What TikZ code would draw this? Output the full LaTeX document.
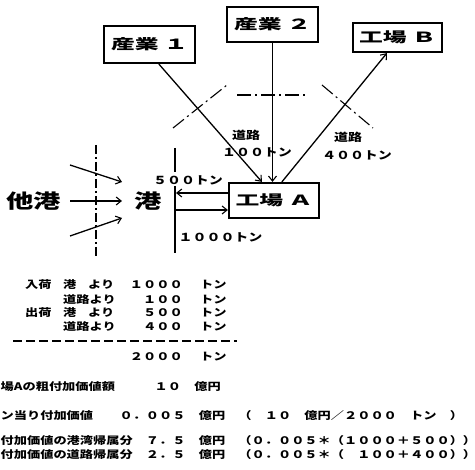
\documentclass[tikz,border=0pt]{standalone}
\usepackage{fontspec}
\newfontfamily\jpa[FakeStretch=1.27]{Noto Sans CJK JP}
\newfontfamily\jpb[FakeStretch=1.7]{Noto Sans CJK JP}
\newfontfamily\jpc[FakeStretch=1.4]{Noto Sans CJK JP}
\usetikzlibrary{arrows.meta,calc}
\begin{document}
\begin{tikzpicture}[x=1pt,y=-1pt,
  box/.style={draw,line width=2.2pt,inner sep=0pt,font=\jpb\bfseries\fontsize{14}{16}\selectfont},
  lbl/.style={inner sep=0pt,font=\jpa\bfseries\fontsize{11}{13}\selectfont},
  tbl/.style={inner sep=0pt,font=\jpa\bfseries\fontsize{10.4}{12}\selectfont},
  big/.style={inner sep=0pt,font=\jpc\bfseries\fontsize{19.5}{21}\selectfont},
  con/.style={line width=1.3pt},
  arr/.style={con,-{Straight Barb[length=5pt,width=8pt,line width=1.1pt]}},
  cut/.style={line width=1.1pt,dash pattern=on 14pt off 4pt on 2pt off 4pt},
  vcut/.style={line width=1.1pt,dash pattern=on 9pt off 3pt on 2pt off 3pt}]
\useasboundingbox (0,0) rectangle (475,470);
% boxes
\node[box,minimum width=91pt,minimum height=37pt] (s1) at (149.5,44.5) {産業 １};
\node[box,minimum width=91pt,minimum height=35pt] (s2) at (272.5,24.5) {産業 ２};
\node[box,minimum width=89pt,minimum height=29pt] (fb) at (397.5,37.5) {工場 Ｂ};
\node[box,minimum width=90pt,minimum height=35pt] (fa) at (274,200.5) {工場 Ａ};
% road arrows
\draw[arr] ($(s1.south west)+(56,0)$) -- ($(fa.north west)+(34,0)$);
\draw[arr] (s2.south) -- (s2.south |- fa.north);
\draw[arr] ($(fa.north west)+(54,0)$) -- ($(fb.south west)+(35,0)$);
% cut lines
\coordinate (c1a) at (173,128); \coordinate (c1b) at (227,85);
\coordinate (c2a) at (237,95);  \coordinate (c2b) at (308,95);
\coordinate (c3a) at (322,85);  \coordinate (c3b) at (373,128);
\draw[cut] (c1a) -- (c1b);
\draw[cut] (c2a) -- (c2b);
\draw[cut] (c3a) -- (c3b);
\coordinate (v1a) at (96,145); \coordinate (v1b) at (96,257);
\draw[vcut] (v1a) -- (v1b);
% port line
\coordinate (p1) at (175,148); \coordinate (p2) at (175,172);
\coordinate (p3) at (175,186); \coordinate (p4) at (175,253);
\draw[con] (p1) -- (p2);
\draw[con] (p3) -- (p4);
\coordinate (q1) at (176,193); \coordinate (q2) at (176,210);
\draw[arr] ($(fa.west)+(0,-7.5)$) -- (q1);
\draw[arr] (q2) -- ($(fa.west)+(0,9.5)$);
% other port
\node[big] (ot) at (34,201) {他港};
\node[big] (pt) at (148.5,201) {港};
\coordinate (a1s) at (70,165); \coordinate (a1e) at (122,182);
\coordinate (a2s) at (70,201); \coordinate (a2e) at (122,201);
\coordinate (a3s) at (70,236); \coordinate (a3e) at (122,218);
\draw[arr] (a1s) -- (a1e);
\draw[arr] (a2s) -- (a2e);
\draw[arr] (a3s) -- (a3e);
% labels
\node[lbl] (r1) at (246,135) {道路};
\node[lbl] (r1t) at (257,152) {１００トン};
\node[lbl] (r2) at (348,137) {道路};
\node[lbl] (r2t) at (357,155) {４００トン};
\node[lbl] (t500) at (188,180) {５００トン};
\node[lbl] (t1000) at (220.5,237) {１０００トン};
% table
\node[tbl,anchor=west] (k1) at (25,285) {入荷};
\node[tbl,anchor=west] (k1a) at (63,285) {港};
\node[tbl,anchor=west] (k1b) at (88,285) {より};
\node[tbl,anchor=east] (n1) at (183,285) {１０００};
\node[tbl,anchor=west] (u1) at (200,285) {トン};
\node[tbl,anchor=west] (k2a) at (63,300) {道路より};
\node[tbl,anchor=east] (n2) at (183,300) {１００};
\node[tbl,anchor=west] (u2) at (200,300) {トン};
\node[tbl,anchor=west] (k3) at (25,313) {出荷};
\node[tbl,anchor=west] (k3a) at (63,313) {港};
\node[tbl,anchor=west] (k3b) at (88,313) {より};
\node[tbl,anchor=east] (n3) at (183,313) {５００};
\node[tbl,anchor=west] (u3) at (200,313) {トン};
\node[tbl,anchor=west] (k4a) at (63,327) {道路より};
\node[tbl,anchor=east] (n4) at (183,327) {４００};
\node[tbl,anchor=west] (u4) at (200,327) {トン};
\coordinate (d1) at (13,341); \coordinate (d2) at (237,341);
\draw[line width=1.3pt,dash pattern=on 9pt off 4pt] (d1) -- (d2);
\node[tbl,anchor=east] (n5) at (183,357) {２０００};
\node[tbl,anchor=west] (u5) at (200,357) {トン};
% bottom lines
\node[tbl,anchor=west] (b1) at (0.5,387) {場Aの粗付加価値額　　　１０　億円};
\node[tbl,anchor=west] (b2) at (0.5,416) {ン当り付加価値　　０．００５　億円　（　１０　億円／２０００　トン　）};
\node[tbl,anchor=west] (b3) at (0.5,441) {付加価値の港湾帰属分　７．５　億円　（０．００５＊（１０００＋５００））};
\node[tbl,anchor=west] (b4) at (0.5,455) {付加価値の道路帰属分　２．５　億円　（０．００５＊（　１００＋４００））};
\end{tikzpicture}
\end{document}
